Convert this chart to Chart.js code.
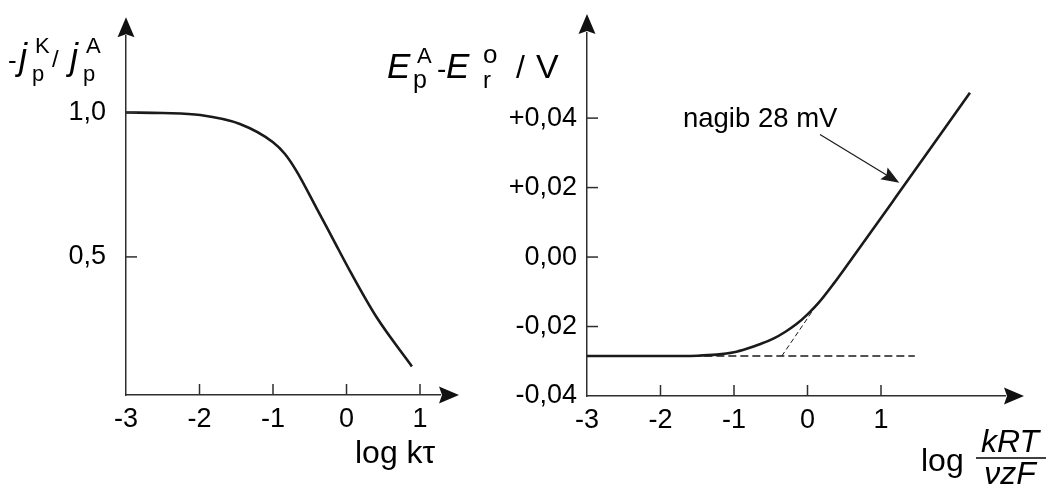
<!DOCTYPE html>
<html>
<head>
<meta charset="utf-8">
<script src="https://cdn.jsdelivr.net/npm/chart.js@4.4.1/dist/chart.umd.min.js"></script>
<style>
  html, body { margin: 0; padding: 0; background: #fff; }
  #wrap { position: relative; width: 1053px; height: 486px; }
  #wrap canvas { position: absolute; left: 0; top: 0; }
</style>
</head>
<body>
<div id="wrap">
  <canvas id="leftChart" width="1053" height="486"></canvas>
  <canvas id="rightChart" width="1053" height="486"></canvas>
</div>
<script>
// linker grafiek: -jpK/jpA tegen log k*tau
const leftX = [-3, -2.5, -1.99, -1.45, -1.0, -0.84, -0.68, -0.41, -0.18, 0.05, 0.41, 0.89];
const leftY = [1.0, 0.998, 0.991, 0.96, 0.897, 0.857, 0.797, 0.67, 0.56, 0.45, 0.291, 0.121];
const leftXTicks = [-3, -2, -1, 0, 1];
const leftYTicks = [0.5, 1.0];

// rechter grafiek: EpA - Ero tegen log(kRT/vzF)
const rightX = [-3, -2, -1.5, -1.235, -1.0, -0.827, -0.65, -0.465, -0.3, -0.15, 0.0, 0.15, 0.351, 0.578, 1.19, 2.21];
const rightY = [-0.0285, -0.0285, -0.0284, -0.0281, -0.0274, -0.0264, -0.0251, -0.0235, -0.0215, -0.0193, -0.0165, -0.0132, -0.0078, -0.0012, 0.0169, 0.0473];
const baseX = [-1.73, 1.46];
const baseY = [-0.0285, -0.0285];
const slopeX = [-0.35, 0.12];
const slopeY = [-0.0285, -0.0139];
const rightXTicks = [-3, -2, -1, 0, 1];
const rightYTicks = [-0.04, -0.02, 0, 0.02, 0.04];

// annotatie
const noteText = 'nagib 28 mV';
const noteAt = [-1.694, 0.0374];
const noteFrom = [0.17, 0.0353];
const noteTo = [1.249, 0.0214];

const FONT = "'Liberation Sans', Arial, sans-serif";
const INK = '#1a1a1a';
const AXIS = '#2e2e2e';

const pts = (xs, ys) => xs.map((x, i) => ({ x: x, y: ys[i] }));

function drawParts(ctx, parts) {
    ctx.textAlign = 'left';
    ctx.textBaseline = 'alphabetic';
    ctx.fillStyle = '#000';
    parts.forEach(p => {
        ctx.font = (p.it ? 'italic ' : '') + p.s + 'px ' + FONT;
        ctx.fillText(p.t, p.x, p.y);
    });
}

function arrowHead(ctx, x, y, ang, len, half) {
    ctx.save();
    ctx.translate(x, y);
    ctx.rotate(ang);
    ctx.beginPath();
    ctx.moveTo(0, 0);
    ctx.lineTo(-len, -half);
    ctx.lineTo(-len + 3, 0);
    ctx.lineTo(-len, half);
    ctx.closePath();
    ctx.fill();
    ctx.restore();
}

// tick streepjes naar binnen + pijlen op de assen
const axisDecor = {
    id: 'axisDecor',
    afterDraw(chart) {
        const ctx = chart.ctx;
        const a = chart.chartArea;
        const xs = chart.scales.x, ys = chart.scales.y;
        ctx.save();
        ctx.strokeStyle = AXIS;
        ctx.fillStyle = '#111';
        ctx.lineWidth = 1.5;
        xs.ticks.forEach(t => {
            if (t.value === xs.min) return;
            const px = xs.getPixelForValue(t.value);
            ctx.beginPath(); ctx.moveTo(px, a.bottom); ctx.lineTo(px, a.bottom - 11); ctx.stroke();
        });
        ys.ticks.forEach(t => {
            const py = ys.getPixelForValue(t.value);
            if (Math.abs(py - a.bottom) < 2) return;
            ctx.beginPath(); ctx.moveTo(a.left, py); ctx.lineTo(a.left + 11, py); ctx.stroke();
        });
        arrowHead(ctx, a.left, a.top - 19, -Math.PI / 2, 20, 8.5);
        arrowHead(ctx, a.right + 19, a.bottom, 0, 20, 8.5);
        ctx.restore();
    }
};

const leftTitles = {
    id: 'leftTitles',
    afterDraw(chart) {
        const ctx = chart.ctx;
        ctx.save();
        drawParts(ctx, [
            { t: '-', x: 8, y: 69, s: 26 },
            { t: 'j', x: 19, y: 69, s: 36, it: true },
            { t: 'K', x: 35, y: 53, s: 22 },
            { t: 'p', x: 32, y: 81, s: 22 },
            { t: '/', x: 52, y: 67, s: 24 },
            { t: 'j', x: 70, y: 69, s: 36, it: true },
            { t: 'A', x: 86, y: 53, s: 22 },
            { t: 'p', x: 83, y: 81, s: 22 },
            { t: 'log k\u03C4', x: 355, y: 463, s: 32 }
        ]);
        ctx.restore();
    }
};

const rightTitles = {
    id: 'rightTitles',
    afterDraw(chart) {
        const ctx = chart.ctx;
        const xs = chart.scales.x, ys = chart.scales.y;
        ctx.save();
        drawParts(ctx, [
            { t: 'E', x: 387, y: 78, s: 35, it: true },
            { t: 'A', x: 417, y: 63, s: 22 },
            { t: 'p', x: 413, y: 88, s: 25 },
            { t: '-', x: 437, y: 78, s: 28 },
            { t: 'E', x: 446, y: 78, s: 35, it: true },
            { t: 'o', x: 483, y: 63, s: 26 },
            { t: 'r', x: 483, y: 88, s: 24 },
            { t: '/', x: 516, y: 78, s: 32 },
            { t: 'V', x: 536, y: 78, s: 34 },
            { t: 'log', x: 921, y: 471, s: 32 }
        ]);
        // breuk kRT / vzF
        ctx.textAlign = 'center';
        ctx.font = 'italic 32px ' + FONT;
        ctx.fillText('kRT', 1010, 452);
        ctx.fillText('\u03BDzF', 1010, 484);
        ctx.strokeStyle = '#000';
        ctx.lineWidth = 1.5;
        ctx.beginPath(); ctx.moveTo(976, 458); ctx.lineTo(1046, 458); ctx.stroke();

        // nagib-annotatie met pijl
        ctx.textAlign = 'left';
        ctx.font = '27.5px ' + FONT;
        ctx.fillText(noteText, xs.getPixelForValue(noteAt[0]), ys.getPixelForValue(noteAt[1]));
        const x1 = xs.getPixelForValue(noteFrom[0]), y1 = ys.getPixelForValue(noteFrom[1]);
        const x2 = xs.getPixelForValue(noteTo[0]), y2 = ys.getPixelForValue(noteTo[1]);
        const ang = Math.atan2(y2 - y1, x2 - x1);
        ctx.strokeStyle = INK;
        ctx.fillStyle = INK;
        ctx.lineWidth = 1.2;
        ctx.beginPath(); ctx.moveTo(x1, y1); ctx.lineTo(x2 - 14 * Math.cos(ang), y2 - 14 * Math.sin(ang)); ctx.stroke();
        arrowHead(ctx, x2, y2, ang, 18, 7);
        ctx.restore();
    }
};

function scaleX(min, max, tickVals, height) {
    return {
        type: 'linear', min: min, max: max,
        afterBuildTicks: s => { s.ticks = tickVals.map(v => ({ value: v })); },
        afterFit: s => { s.height = height; },
        grid: { display: false, drawTicks: false },
        border: { display: true, color: AXIS, width: 1.5 },
        ticks: {
            color: '#000', font: { family: FONT, size: 27 }, padding: 8,
            autoSkip: false, maxRotation: 0, callback: v => String(v)
        }
    };
}

function scaleY(min, max, tickVals, width, pad, fmt) {
    return {
        type: 'linear', min: min, max: max,
        afterBuildTicks: s => { s.ticks = tickVals.map(v => ({ value: v })); },
        afterFit: s => { s.width = width; },
        grid: { display: false, drawTicks: false },
        border: { display: true, color: AXIS, width: 1.5 },
        ticks: { color: '#000', font: { family: FONT, size: 27 }, padding: pad, autoSkip: false, callback: fmt }
    };
}

const common = {
    responsive: false,
    animation: false,
    devicePixelRatio: 1,
    plugins: { legend: { display: false }, tooltip: { enabled: false } },
    elements: { point: { radius: 0 } }
};

new Chart(document.getElementById('leftChart'), {
    type: 'line',
    data: {
        datasets: [{
            data: pts(leftX, leftY),
            borderColor: INK, borderWidth: 2.6,
            cubicInterpolationMode: 'monotone', fill: false
        }]
    },
    options: Object.assign({}, common, {
        layout: { padding: { left: 0, top: 33, right: 613, bottom: 0 } },
        scales: {
            x: scaleX(-3, 1.272, leftXTicks, 91),
            y: scaleY(0.022, 1.264, leftYTicks, 126, 20, v => v.toFixed(1).replace('.', ','))
        }
    }),
    plugins: [axisDecor, leftTitles]
});

new Chart(document.getElementById('rightChart'), {
    type: 'line',
    data: {
        datasets: [{
            data: pts(baseX, baseY),
            borderColor: INK, borderWidth: 1.4, borderDash: [8, 4], fill: false
        }, {
            data: pts(slopeX, slopeY),
            borderColor: INK, borderWidth: 1, borderDash: [5, 3], fill: false
        }, {
            data: pts(rightX, rightY),
            borderColor: INK, borderWidth: 2.6,
            cubicInterpolationMode: 'monotone', fill: false
        }]
    },
    options: Object.assign({}, common, {
        layout: { padding: { left: 0, top: 33, right: 48, bottom: 0 } },
        scales: {
            x: scaleX(-3, 2.687, rightXTicks, 90),
            y: scaleY(-0.04, 0.0645, rightYTicks, 587, 10, v => {
                const s = Math.abs(v).toFixed(2).replace('.', ',');
                if (Math.abs(v) < 1e-9) return s;
                return (v > 0 ? '+' : '-') + s;
            })
        }
    }),
    plugins: [axisDecor, rightTitles]
});
</script>
</body>
</html>
